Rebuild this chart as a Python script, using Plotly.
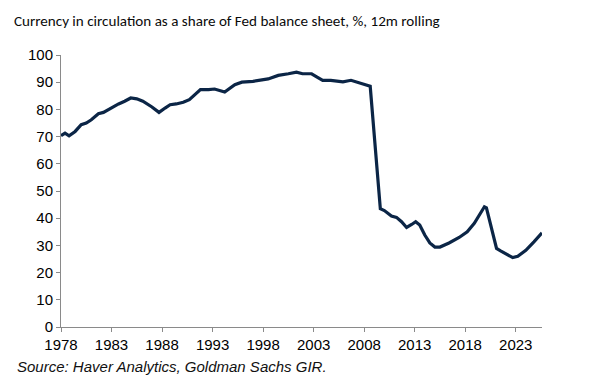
import plotly.graph_objects as go

years = [1978.0, 1978.4, 1978.8, 1979.4, 1980.0, 1980.5, 1981.0, 1981.7, 1982.2, 1983.2,
         1983.7, 1984.3, 1984.9, 1985.5, 1986.1, 1987.0, 1987.7, 1988.3, 1988.8, 1989.4,
         1990.1, 1990.7, 1991.2, 1991.8, 1992.6, 1993.2, 1994.2, 1995.2, 1995.9, 1997.0,
         1998.5, 1999.5, 2000.5, 2001.3, 2001.9, 2002.8, 2003.3, 2003.9, 2004.7, 2005.9,
         2006.7, 2007.5, 2008.6, 2009.6, 2010.0, 2010.7, 2011.2, 2011.7, 2012.2, 2012.7,
         2013.1, 2013.5, 2014.0, 2014.5, 2015.0, 2015.5, 2016.4, 2017.4, 2018.2, 2018.9,
         2019.5, 2019.9, 2020.1, 2020.6, 2021.1, 2021.5, 2022.2, 2022.7, 2023.2, 2024.0,
         2024.8, 2025.6]
share_pct = [70.3, 71.3, 70.3, 71.9, 74.4, 75.0, 76.2, 78.4, 78.9, 81.1,
             82.0, 83.0, 84.2, 83.9, 83.0, 80.9, 78.9, 80.5, 81.7, 82.0,
             82.6, 83.6, 85.4, 87.3, 87.3, 87.5, 86.4, 89.1, 90.0, 90.3,
             91.2, 92.5, 93.1, 93.7, 93.1, 93.1, 92.0, 90.7, 90.7, 90.1,
             90.7, 89.7, 88.5, 43.5, 42.8, 40.8, 40.3, 38.7, 36.6, 37.7,
             38.7, 37.5, 33.8, 30.9, 29.4, 29.4, 30.9, 32.9, 35.0, 38.1,
             41.8, 44.2, 43.8, 36.2, 28.9, 28.0, 26.4, 25.5, 26.0, 28.2,
             31.3, 34.6]
x_ticks = [1978, 1983, 1988, 1993, 1998, 2003, 2008, 2013, 2018, 2023]
y_ticks = [0, 10, 20, 30, 40, 50, 60, 70, 80, 90, 100]

title_text = "Currency in circulation as a share of Fed balance sheet, %, 12m rolling"
source_text = "Source: Haver Analytics, Goldman Sachs GIR."

fig = go.Figure()
fig.add_trace(go.Scatter(
    x=years, y=share_pct, mode="lines",
    line=dict(color="#0b2546", width=3.2),
    showlegend=False, hoverinfo="skip",
))

axis_font = dict(family="Liberation Sans, Arial, sans-serif", size=15, color="#000000")

fig.update_layout(
    width=600, height=385,
    margin=dict(l=61, r=58, t=55, b=58),
    paper_bgcolor="white", plot_bgcolor="white",
    xaxis=dict(
        range=[1978, 2025.6], tickvals=x_ticks, ticktext=[str(t) for t in x_ticks],
        showgrid=False, zeroline=False,
        showline=True, linecolor="#8a8a8a", linewidth=1,
        ticks="outside", ticklen=4, tickcolor="#8a8a8a",
        tickfont=axis_font,
    ),
    yaxis=dict(
        range=[0, 100], tickvals=y_ticks,
        showgrid=False, zeroline=False,
        showline=True, linecolor="#8a8a8a", linewidth=1,
        ticks="outside", ticklen=4, tickcolor="#8a8a8a",
        tickfont=axis_font,
    ),
    annotations=[
        dict(text=title_text, xref="paper", yref="paper",
             x=(12 - 61) / 481, y=1 + (55.5 - 22) / 271, xanchor="left", yanchor="middle",
             showarrow=False,
             font=dict(family="Carlito, Calibri, sans-serif", size=15.1, color="#0a0a0a")),
        dict(text=source_text, xref="paper", yref="paper",
             x=(15 - 61) / 481, y=(326.5 - 366) / 271, xanchor="left", yanchor="middle",
             showarrow=False,
             font=dict(family="Liberation Sans, Arial, sans-serif", size=15, color="#111111",
                       style="italic")),
    ],
)

fig.write_html("out.html", config={"displayModeBar": False},
               post_script="document.body.style.margin='0';")
